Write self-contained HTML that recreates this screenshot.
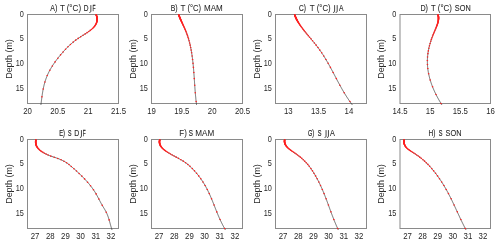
<!DOCTYPE html>
<html><head><meta charset="utf-8"><style>
html,body{margin:0;padding:0;background:#fff;width:500px;height:244px;overflow:hidden}
svg{display:block}
</style></head><body>
<svg width="500" height="244" viewBox="0 0 500 244">
<g font-family="Liberation Sans, sans-serif" font-size="8" fill="#262626" opacity="0.995">
<text x="50.29" y="11.10" font-size="8.7" textLength="6.94" lengthAdjust="spacingAndGlyphs" stroke="#262626" stroke-width="0.12">A)</text>
<text x="60.02" y="11.10" font-size="8.7" textLength="4.97" lengthAdjust="spacingAndGlyphs" stroke="#262626" stroke-width="0.04">T</text>
<text x="66.70" y="11.10" font-size="8.7" textLength="14.40" lengthAdjust="spacingAndGlyphs" stroke="#262626" stroke-width="0.04">(°C)</text>
<text x="83.66" y="11.10" font-size="8.7" textLength="4.76" lengthAdjust="spacingAndGlyphs" stroke="#262626" stroke-width="0.15">D</text>
<path d="M90.85,5.11 V11.30 Q90.85,12.40 89.35,12.50" fill="none" stroke="#262626" stroke-width="0.85"/>
<text x="92.40" y="11.10" font-size="8.7" textLength="3.00" lengthAdjust="spacingAndGlyphs" stroke="#262626" stroke-width="0.26">F</text>
<text transform="translate(27.50,113.60) scale(0.9,1)" font-size="8.7" text-anchor="middle">20</text>
<text transform="translate(57.83,113.60) scale(0.9,1)" font-size="8.7" text-anchor="middle">20.5</text>
<text transform="translate(88.17,113.60) scale(0.9,1)" font-size="8.7" text-anchor="middle">21</text>
<text transform="translate(118.50,113.60) scale(0.9,1)" font-size="8.7" text-anchor="middle">21.5</text>
<text transform="translate(23.90,16.70) scale(0.84,1)" font-size="8.7" text-anchor="end">0</text>
<text transform="translate(23.90,41.42) scale(0.84,1)" font-size="8.7" text-anchor="end">5</text>
<text transform="translate(23.90,66.14) scale(0.84,1)" font-size="8.7" text-anchor="end">10</text>
<text transform="translate(23.90,90.87) scale(0.84,1)" font-size="8.7" text-anchor="end">15</text>
<text transform="translate(11.50,59.00) rotate(-90) scale(0.95,1)" font-size="9.4" text-anchor="middle">Depth (m)</text>
<text x="170.73" y="11.10" font-size="8.7" textLength="6.89" lengthAdjust="spacingAndGlyphs" stroke="#262626" stroke-width="0.12">B)</text>
<text x="180.42" y="11.10" font-size="8.7" textLength="4.97" lengthAdjust="spacingAndGlyphs" stroke="#262626" stroke-width="0.04">T</text>
<text x="187.43" y="11.10" font-size="8.7" textLength="13.65" lengthAdjust="spacingAndGlyphs" stroke="#262626" stroke-width="0.07">(°C)</text>
<text x="204.04" y="11.10" font-size="8.7" textLength="18.72" lengthAdjust="spacingAndGlyphs" stroke="#262626" stroke-width="0.05">MAM</text>
<text transform="translate(151.50,113.60) scale(0.9,1)" font-size="8.7" text-anchor="middle">19</text>
<text transform="translate(181.83,113.60) scale(0.9,1)" font-size="8.7" text-anchor="middle">19.5</text>
<text transform="translate(212.17,113.60) scale(0.9,1)" font-size="8.7" text-anchor="middle">20</text>
<text transform="translate(242.50,113.60) scale(0.9,1)" font-size="8.7" text-anchor="middle">20.5</text>
<text transform="translate(147.90,16.70) scale(0.84,1)" font-size="8.7" text-anchor="end">0</text>
<text transform="translate(147.90,41.42) scale(0.84,1)" font-size="8.7" text-anchor="end">5</text>
<text transform="translate(147.90,66.14) scale(0.84,1)" font-size="8.7" text-anchor="end">10</text>
<text transform="translate(147.90,90.87) scale(0.84,1)" font-size="8.7" text-anchor="end">15</text>
<text transform="translate(135.50,59.00) rotate(-90) scale(0.95,1)" font-size="9.4" text-anchor="middle">Depth (m)</text>
<text x="298.97" y="11.10" font-size="8.7" textLength="6.94" lengthAdjust="spacingAndGlyphs" stroke="#262626" stroke-width="0.15">C)</text>
<text x="309.72" y="11.10" font-size="8.7" textLength="4.97" lengthAdjust="spacingAndGlyphs" stroke="#262626" stroke-width="0.04">T</text>
<text x="316.72" y="11.10" font-size="8.7" textLength="13.86" lengthAdjust="spacingAndGlyphs" stroke="#262626" stroke-width="0.07">(°C)</text>
<path d="M334.60,5.11 V11.30 Q334.60,12.40 333.10,12.50" fill="none" stroke="#262626" stroke-width="0.85"/>
<path d="M337.20,5.11 V11.30 Q337.20,12.40 335.70,12.50" fill="none" stroke="#262626" stroke-width="0.85"/>
<text x="338.99" y="11.10" font-size="8.7" textLength="4.53" lengthAdjust="spacingAndGlyphs" stroke="#262626" stroke-width="0.13">A</text>
<text transform="translate(288.24,113.60) scale(0.9,1)" font-size="8.7" text-anchor="middle">13</text>
<text transform="translate(318.57,113.60) scale(0.9,1)" font-size="8.7" text-anchor="middle">13.5</text>
<text transform="translate(348.91,113.60) scale(0.9,1)" font-size="8.7" text-anchor="middle">14</text>
<text transform="translate(271.90,16.70) scale(0.84,1)" font-size="8.7" text-anchor="end">0</text>
<text transform="translate(271.90,41.42) scale(0.84,1)" font-size="8.7" text-anchor="end">5</text>
<text transform="translate(271.90,66.14) scale(0.84,1)" font-size="8.7" text-anchor="end">10</text>
<text transform="translate(271.90,90.87) scale(0.84,1)" font-size="8.7" text-anchor="end">15</text>
<text transform="translate(259.50,59.00) rotate(-90) scale(0.95,1)" font-size="9.4" text-anchor="middle">Depth (m)</text>
<text x="420.41" y="11.10" font-size="8.7" textLength="7.53" lengthAdjust="spacingAndGlyphs" stroke="#262626" stroke-width="0.11">D)</text>
<text x="431.03" y="11.10" font-size="8.7" textLength="4.65" lengthAdjust="spacingAndGlyphs" stroke="#262626" stroke-width="0.08">T</text>
<text x="437.81" y="11.10" font-size="8.7" textLength="14.18" lengthAdjust="spacingAndGlyphs" stroke="#262626" stroke-width="0.05">(°C)</text>
<text x="454.87" y="11.10" font-size="8.7" textLength="15.83" lengthAdjust="spacingAndGlyphs" stroke="#262626" stroke-width="0.10">SON</text>
<text transform="translate(400.00,113.60) scale(0.9,1)" font-size="8.7" text-anchor="middle">14.5</text>
<text transform="translate(430.17,113.60) scale(0.9,1)" font-size="8.7" text-anchor="middle">15</text>
<text transform="translate(460.33,113.60) scale(0.9,1)" font-size="8.7" text-anchor="middle">15.5</text>
<text transform="translate(490.50,113.60) scale(0.9,1)" font-size="8.7" text-anchor="middle">16</text>
<text transform="translate(396.40,16.70) scale(0.84,1)" font-size="8.7" text-anchor="end">0</text>
<text transform="translate(396.40,41.42) scale(0.84,1)" font-size="8.7" text-anchor="end">5</text>
<text transform="translate(396.40,66.14) scale(0.84,1)" font-size="8.7" text-anchor="end">10</text>
<text transform="translate(396.40,90.87) scale(0.84,1)" font-size="8.7" text-anchor="end">15</text>
<text transform="translate(384.00,59.00) rotate(-90) scale(0.95,1)" font-size="9.4" text-anchor="middle">Depth (m)</text>
<text x="59.13" y="136.10" font-size="8.7" textLength="5.72" lengthAdjust="spacingAndGlyphs" stroke="#262626" stroke-width="0.21">E)</text>
<text x="68.06" y="136.10" font-size="8.7" textLength="3.48" lengthAdjust="spacingAndGlyphs" stroke="#262626" stroke-width="0.24">S</text>
<text x="74.33" y="136.10" font-size="8.7" textLength="5.00" lengthAdjust="spacingAndGlyphs" stroke="#262626" stroke-width="0.12">D</text>
<path d="M81.45,130.11 V136.30 Q81.45,137.40 79.95,137.50" fill="none" stroke="#262626" stroke-width="0.85"/>
<text x="82.81" y="136.10" font-size="8.7" textLength="2.87" lengthAdjust="spacingAndGlyphs" stroke="#262626" stroke-width="0.28">F</text>
<text transform="translate(35.08,238.60) scale(0.9,1)" font-size="8.7" text-anchor="middle">27</text>
<text transform="translate(50.25,238.60) scale(0.9,1)" font-size="8.7" text-anchor="middle">28</text>
<text transform="translate(65.42,238.60) scale(0.9,1)" font-size="8.7" text-anchor="middle">29</text>
<text transform="translate(80.58,238.60) scale(0.9,1)" font-size="8.7" text-anchor="middle">30</text>
<text transform="translate(95.75,238.60) scale(0.9,1)" font-size="8.7" text-anchor="middle">31</text>
<text transform="translate(110.92,238.60) scale(0.9,1)" font-size="8.7" text-anchor="middle">32</text>
<text transform="translate(23.90,141.70) scale(0.84,1)" font-size="8.7" text-anchor="end">0</text>
<text transform="translate(23.90,166.42) scale(0.84,1)" font-size="8.7" text-anchor="end">5</text>
<text transform="translate(23.90,191.14) scale(0.84,1)" font-size="8.7" text-anchor="end">10</text>
<text transform="translate(23.90,215.87) scale(0.84,1)" font-size="8.7" text-anchor="end">15</text>
<text transform="translate(11.50,184.00) rotate(-90) scale(0.95,1)" font-size="9.4" text-anchor="middle">Depth (m)</text>
<text x="179.35" y="136.10" font-size="8.7" textLength="7.43" lengthAdjust="spacingAndGlyphs" stroke="#262626" stroke-width="0.06">F)</text>
<text x="188.82" y="136.10" font-size="8.7" textLength="4.17" lengthAdjust="spacingAndGlyphs" stroke="#262626" stroke-width="0.17">S</text>
<text x="195.33" y="136.10" font-size="8.7" textLength="18.93" lengthAdjust="spacingAndGlyphs" stroke="#262626" stroke-width="0.04">MAM</text>
<text transform="translate(159.08,238.60) scale(0.9,1)" font-size="8.7" text-anchor="middle">27</text>
<text transform="translate(174.25,238.60) scale(0.9,1)" font-size="8.7" text-anchor="middle">28</text>
<text transform="translate(189.42,238.60) scale(0.9,1)" font-size="8.7" text-anchor="middle">29</text>
<text transform="translate(204.58,238.60) scale(0.9,1)" font-size="8.7" text-anchor="middle">30</text>
<text transform="translate(219.75,238.60) scale(0.9,1)" font-size="8.7" text-anchor="middle">31</text>
<text transform="translate(234.92,238.60) scale(0.9,1)" font-size="8.7" text-anchor="middle">32</text>
<text transform="translate(147.90,141.70) scale(0.84,1)" font-size="8.7" text-anchor="end">0</text>
<text transform="translate(147.90,166.42) scale(0.84,1)" font-size="8.7" text-anchor="end">5</text>
<text transform="translate(147.90,191.14) scale(0.84,1)" font-size="8.7" text-anchor="end">10</text>
<text transform="translate(147.90,215.87) scale(0.84,1)" font-size="8.7" text-anchor="end">15</text>
<text transform="translate(135.50,184.00) rotate(-90) scale(0.95,1)" font-size="9.4" text-anchor="middle">Depth (m)</text>
<text x="307.92" y="136.10" font-size="8.7" textLength="6.23" lengthAdjust="spacingAndGlyphs" stroke="#262626" stroke-width="0.21">G)</text>
<text x="317.75" y="136.10" font-size="8.7" textLength="3.71" lengthAdjust="spacingAndGlyphs" stroke="#262626" stroke-width="0.22">S</text>
<path d="M326.05,130.11 V136.30 Q326.05,137.40 324.55,137.50" fill="none" stroke="#262626" stroke-width="0.85"/>
<path d="M328.45,130.11 V136.30 Q328.45,137.40 326.95,137.50" fill="none" stroke="#262626" stroke-width="0.85"/>
<text x="329.89" y="136.10" font-size="8.7" textLength="4.83" lengthAdjust="spacingAndGlyphs" stroke="#262626" stroke-width="0.10">A</text>
<text transform="translate(283.08,238.60) scale(0.9,1)" font-size="8.7" text-anchor="middle">27</text>
<text transform="translate(298.25,238.60) scale(0.9,1)" font-size="8.7" text-anchor="middle">28</text>
<text transform="translate(313.42,238.60) scale(0.9,1)" font-size="8.7" text-anchor="middle">29</text>
<text transform="translate(328.58,238.60) scale(0.9,1)" font-size="8.7" text-anchor="middle">30</text>
<text transform="translate(343.75,238.60) scale(0.9,1)" font-size="8.7" text-anchor="middle">31</text>
<text transform="translate(358.92,238.60) scale(0.9,1)" font-size="8.7" text-anchor="middle">32</text>
<text transform="translate(271.90,141.70) scale(0.84,1)" font-size="8.7" text-anchor="end">0</text>
<text transform="translate(271.90,166.42) scale(0.84,1)" font-size="8.7" text-anchor="end">5</text>
<text transform="translate(271.90,191.14) scale(0.84,1)" font-size="8.7" text-anchor="end">10</text>
<text transform="translate(271.90,215.87) scale(0.84,1)" font-size="8.7" text-anchor="end">15</text>
<text transform="translate(259.50,184.00) rotate(-90) scale(0.95,1)" font-size="9.4" text-anchor="middle">Depth (m)</text>
<text x="428.57" y="136.10" font-size="8.7" textLength="6.83" lengthAdjust="spacingAndGlyphs" stroke="#262626" stroke-width="0.15">H)</text>
<text x="438.75" y="136.10" font-size="8.7" textLength="3.71" lengthAdjust="spacingAndGlyphs" stroke="#262626" stroke-width="0.22">S</text>
<text x="445.57" y="136.10" font-size="8.7" textLength="15.93" lengthAdjust="spacingAndGlyphs" stroke="#262626" stroke-width="0.09">SON</text>
<text transform="translate(407.54,238.60) scale(0.9,1)" font-size="8.7" text-anchor="middle">27</text>
<text transform="translate(422.62,238.60) scale(0.9,1)" font-size="8.7" text-anchor="middle">28</text>
<text transform="translate(437.71,238.60) scale(0.9,1)" font-size="8.7" text-anchor="middle">29</text>
<text transform="translate(452.79,238.60) scale(0.9,1)" font-size="8.7" text-anchor="middle">30</text>
<text transform="translate(467.88,238.60) scale(0.9,1)" font-size="8.7" text-anchor="middle">31</text>
<text transform="translate(482.96,238.60) scale(0.9,1)" font-size="8.7" text-anchor="middle">32</text>
<text transform="translate(396.40,141.70) scale(0.84,1)" font-size="8.7" text-anchor="end">0</text>
<text transform="translate(396.40,166.42) scale(0.84,1)" font-size="8.7" text-anchor="end">5</text>
<text transform="translate(396.40,191.14) scale(0.84,1)" font-size="8.7" text-anchor="end">10</text>
<text transform="translate(396.40,215.87) scale(0.84,1)" font-size="8.7" text-anchor="end">15</text>
<text transform="translate(384.00,184.00) rotate(-90) scale(0.95,1)" font-size="9.4" text-anchor="middle">Depth (m)</text>
</g>
<rect x="27.5" y="14.5" width="91.0" height="89.0" fill="none" stroke="#8a8a8a" stroke-width="1"/>
<rect x="151.5" y="14.5" width="91.0" height="89.0" fill="none" stroke="#8a8a8a" stroke-width="1"/>
<rect x="275.5" y="14.5" width="91.0" height="89.0" fill="none" stroke="#8a8a8a" stroke-width="1"/>
<rect x="400.0" y="14.5" width="90.5" height="89.0" fill="none" stroke="#8a8a8a" stroke-width="1"/>
<rect x="27.5" y="139.5" width="91.0" height="89.0" fill="none" stroke="#8a8a8a" stroke-width="1"/>
<rect x="151.5" y="139.5" width="91.0" height="89.0" fill="none" stroke="#8a8a8a" stroke-width="1"/>
<rect x="275.5" y="139.5" width="91.0" height="89.0" fill="none" stroke="#8a8a8a" stroke-width="1"/>
<rect x="400.0" y="139.5" width="90.5" height="89.0" fill="none" stroke="#8a8a8a" stroke-width="1"/>
<defs><clipPath id="c0"><rect x="26.5" y="14.5" width="93.0" height="90.6"/></clipPath><clipPath id="c1"><rect x="150.5" y="14.5" width="93.0" height="90.6"/></clipPath><clipPath id="c2"><rect x="274.5" y="14.5" width="93.0" height="90.6"/></clipPath><clipPath id="c3"><rect x="399.0" y="14.5" width="92.5" height="90.6"/></clipPath><clipPath id="c4"><rect x="26.5" y="139.5" width="93.0" height="90.6"/></clipPath><clipPath id="c5"><rect x="150.5" y="139.5" width="93.0" height="90.6"/></clipPath><clipPath id="c6"><rect x="274.5" y="139.5" width="93.0" height="90.6"/></clipPath><clipPath id="c7"><rect x="399.0" y="139.5" width="92.5" height="90.6"/></clipPath></defs>
<g clip-path="url(#c0)">
<path d="M95.87,14.00 L96.08,14.50 L96.27,15.00 L96.45,15.50 L96.61,16.00 L96.74,16.50 L96.86,17.00 L96.95,17.50 L97.03,18.00 L97.08,18.50 L97.11,19.00 L97.11,19.50 L97.09,20.00 L97.05,20.50 L96.98,21.00 L96.88,21.50 L96.76,22.00 L96.62,22.50 L96.44,23.00 L96.24,23.50 L96.00,24.00 L95.74,24.50 L95.45,25.00 L95.13,25.50 L94.78,26.00 L94.39,26.50 L93.98,27.00 L93.53,27.50 L93.05,28.00 L92.53,28.50 L91.98,29.00 L91.39,29.50 L90.78,30.00 L90.13,30.50 L89.46,31.00 L88.76,31.50 L88.05,32.00 L87.31,32.50 L86.56,33.00 L85.80,33.50 L85.02,34.00 L84.24,34.50 L83.46,35.00 L82.67,35.50 L81.88,36.00 L81.10,36.50 L80.32,37.00 L79.55,37.50 L78.79,38.00 L78.04,38.50 L77.31,39.00 L76.60,39.50 L75.91,40.00 L75.23,40.50 L74.58,41.00 L73.93,41.50 L73.31,42.00 L72.69,42.50 L72.10,43.00 L71.51,43.50 L70.94,44.00 L70.38,44.50 L69.83,45.00 L69.30,45.50 L68.77,46.00 L68.26,46.50 L67.75,47.00 L67.25,47.50 L66.76,48.00 L66.28,48.50 L65.80,49.00 L65.33,49.50 L64.87,50.00 L64.41,50.50 L63.95,51.00 L63.50,51.50 L63.05,52.00 L62.61,52.50 L62.17,53.00 L61.73,53.50 L61.30,54.00 L60.88,54.50 L60.45,55.00 L60.04,55.50 L59.62,56.00 L59.21,56.50 L58.81,57.00 L58.41,57.50 L58.01,58.00 L57.62,58.50 L57.24,59.00 L56.85,59.50 L56.48,60.00 L56.10,60.50 L55.73,61.00 L55.37,61.50 L55.01,62.00 L54.66,62.50 L54.31,63.00 L53.97,63.50 L53.63,64.00 L53.29,64.50 L52.96,65.00 L52.64,65.50 L52.32,66.00 L52.01,66.50 L51.70,67.00 L51.39,67.50 L51.09,68.00 L50.80,68.50 L50.51,69.00 L50.23,69.50 L49.95,70.00 L49.68,70.50 L49.41,71.00 L49.15,71.50 L48.89,72.00 L48.64,72.50 L48.40,73.00 L48.16,73.50 L47.92,74.00 L47.70,74.50 L47.47,75.00 L47.26,75.50 L47.04,76.00 L46.84,76.50 L46.64,77.00 L46.44,77.50 L46.25,78.00 L46.07,78.50 L45.89,79.00 L45.72,79.50 L45.55,80.00 L45.38,80.50 L45.22,81.00 L45.07,81.50 L44.92,82.00 L44.77,82.50 L44.63,83.00 L44.49,83.50 L44.36,84.00 L44.22,84.50 L44.10,85.00 L43.98,85.50 L43.86,86.00 L43.74,86.50 L43.63,87.00 L43.52,87.50 L43.41,88.00 L43.31,88.50 L43.21,89.00 L43.11,89.50 L43.02,90.00 L42.92,90.50 L42.83,91.00 L42.75,91.50 L42.66,92.00 L42.58,92.50 L42.50,93.00 L42.42,93.50 L42.34,94.00 L42.27,94.50 L42.19,95.00 L42.12,95.50 L42.05,96.00 L41.98,96.50 L41.91,97.00 L41.84,97.50 L41.78,98.00 L41.71,98.50 L41.65,99.00 L41.58,99.50 L41.52,100.00 L41.45,100.50 L41.39,101.00 L41.33,101.50 L41.27,102.00 L41.20,102.50 L41.14,103.00 L41.08,103.50 L41.01,104.00 L40.95,104.50 L40.89,105.00 L40.83,105.50 L40.76,106.00" fill="none" stroke="#303030" stroke-width="0.7"/>
<g fill="#ff2020"><circle cx="96.08" cy="14.50" r="0.8"/><circle cx="96.19" cy="14.78" r="0.8"/><circle cx="96.27" cy="14.99" r="0.8"/><circle cx="96.34" cy="15.19" r="0.8"/><circle cx="96.41" cy="15.40" r="0.8"/><circle cx="96.48" cy="15.61" r="0.8"/><circle cx="96.55" cy="15.82" r="0.8"/><circle cx="96.61" cy="16.03" r="0.8"/><circle cx="96.67" cy="16.24" r="0.8"/><circle cx="96.73" cy="16.44" r="0.8"/><circle cx="96.78" cy="16.65" r="0.8"/><circle cx="96.83" cy="16.86" r="0.8"/><circle cx="96.87" cy="17.07" r="0.8"/><circle cx="96.91" cy="17.28" r="0.8"/><circle cx="96.95" cy="17.48" r="0.8"/><circle cx="96.98" cy="17.69" r="0.8"/><circle cx="97.01" cy="17.90" r="0.8"/><circle cx="97.04" cy="18.11" r="0.8"/><circle cx="97.06" cy="18.32" r="0.8"/><circle cx="97.08" cy="18.53" r="0.8"/><circle cx="97.09" cy="18.73" r="0.8"/><circle cx="97.10" cy="18.94" r="0.8"/><circle cx="97.11" cy="19.16" r="0.8"/><circle cx="97.11" cy="19.40" r="0.8"/><circle cx="97.10" cy="19.64" r="0.8"/><circle cx="97.09" cy="19.91" r="0.8"/><circle cx="97.07" cy="20.19" r="0.8"/><circle cx="97.05" cy="20.49" r="0.8"/><circle cx="97.01" cy="20.80" r="0.8"/><circle cx="96.95" cy="21.14" r="0.8"/><circle cx="96.88" cy="21.51" r="0.8"/><circle cx="96.79" cy="21.89" r="0.8"/><circle cx="96.67" cy="22.31" r="0.8"/><circle cx="96.53" cy="22.75" r="0.8"/><circle cx="96.35" cy="23.22" r="0.8"/><circle cx="96.13" cy="23.73" r="0.8"/><circle cx="95.86" cy="24.27" r="0.8"/><circle cx="95.53" cy="24.86" r="0.8"/><circle cx="95.14" cy="25.49" r="0.8"/><circle cx="94.65" cy="26.16" r="0.8"/><circle cx="94.07" cy="26.89" r="0.8"/><circle cx="93.36" cy="27.67" r="0.8"/><circle cx="92.51" cy="28.52" r="0.8"/><circle cx="91.47" cy="29.43" r="0.8"/><circle cx="90.23" cy="30.42" r="0.8"/><circle cx="88.78" cy="31.49" r="0.8"/><circle cx="87.08" cy="32.65" r="0.8"/><circle cx="85.16" cy="33.91" r="0.8"/><circle cx="83.02" cy="35.28" r="0.8"/><circle cx="80.68" cy="36.77" r="0.8"/><circle cx="78.20" cy="38.39" r="0.8"/><circle cx="75.69" cy="40.16" r="0.8"/><circle cx="73.19" cy="42.09" r="0.8"/><circle cx="70.45" cy="44.44" r="0.8"/><circle cx="67.97" cy="46.78" r="0.8"/><circle cx="65.54" cy="49.28" r="0.8"/><circle cx="63.06" cy="51.99" r="0.8"/><circle cx="60.58" cy="54.85" r="0.8"/><circle cx="57.83" cy="58.23" r="0.8"/><circle cx="55.10" cy="61.88" r="0.8"/><circle cx="52.36" cy="65.94" r="0.8"/><circle cx="49.84" cy="70.21" r="0.8"/><circle cx="47.23" cy="75.57" r="0.8"/><circle cx="44.92" cy="81.98" r="0.8"/><circle cx="43.21" cy="89.01" r="0.8"/><circle cx="41.93" cy="96.87" r="0.8"/></g>
</g>
<g clip-path="url(#c1)">
<path d="M178.43,14.00 L178.60,14.50 L178.78,15.00 L178.96,15.50 L179.15,16.00 L179.34,16.50 L179.54,17.00 L179.74,17.50 L179.95,18.00 L180.16,18.50 L180.38,19.00 L180.59,19.50 L180.81,20.00 L181.04,20.50 L181.26,21.00 L181.49,21.50 L181.72,22.00 L181.94,22.50 L182.18,23.00 L182.41,23.50 L182.64,24.00 L182.87,24.50 L183.10,25.00 L183.33,25.50 L183.56,26.00 L183.79,26.50 L184.02,27.00 L184.24,27.50 L184.47,28.00 L184.69,28.50 L184.91,29.00 L185.13,29.50 L185.34,30.00 L185.55,30.50 L185.76,31.00 L185.96,31.50 L186.16,32.00 L186.36,32.50 L186.55,33.00 L186.74,33.50 L186.92,34.00 L187.10,34.50 L187.28,35.00 L187.45,35.50 L187.62,36.00 L187.79,36.50 L187.95,37.00 L188.11,37.50 L188.26,38.00 L188.42,38.50 L188.57,39.00 L188.71,39.50 L188.85,40.00 L188.99,40.50 L189.13,41.00 L189.26,41.50 L189.39,42.00 L189.52,42.50 L189.65,43.00 L189.77,43.50 L189.89,44.00 L190.00,44.50 L190.12,45.00 L190.23,45.50 L190.34,46.00 L190.45,46.50 L190.55,47.00 L190.66,47.50 L190.76,48.00 L190.86,48.50 L190.95,49.00 L191.05,49.50 L191.14,50.00 L191.23,50.50 L191.32,51.00 L191.41,51.50 L191.49,52.00 L191.58,52.50 L191.66,53.00 L191.74,53.50 L191.82,54.00 L191.90,54.50 L191.97,55.00 L192.05,55.50 L192.12,56.00 L192.19,56.50 L192.26,57.00 L192.33,57.50 L192.39,58.00 L192.46,58.50 L192.52,59.00 L192.58,59.50 L192.65,60.00 L192.71,60.50 L192.76,61.00 L192.82,61.50 L192.88,62.00 L192.93,62.50 L192.99,63.00 L193.04,63.50 L193.09,64.00 L193.14,64.50 L193.19,65.00 L193.24,65.50 L193.29,66.00 L193.33,66.50 L193.38,67.00 L193.43,67.50 L193.47,68.00 L193.51,68.50 L193.56,69.00 L193.60,69.50 L193.64,70.00 L193.68,70.50 L193.72,71.00 L193.76,71.50 L193.80,72.00 L193.84,72.50 L193.87,73.00 L193.91,73.50 L193.95,74.00 L193.99,74.50 L194.02,75.00 L194.06,75.50 L194.09,76.00 L194.13,76.50 L194.16,77.00 L194.20,77.50 L194.23,78.00 L194.26,78.50 L194.30,79.00 L194.33,79.50 L194.37,80.00 L194.40,80.50 L194.43,81.00 L194.47,81.50 L194.50,82.00 L194.53,82.50 L194.57,83.00 L194.60,83.50 L194.63,84.00 L194.67,84.50 L194.70,85.00 L194.74,85.50 L194.77,86.00 L194.81,86.50 L194.84,87.00 L194.88,87.50 L194.92,88.00 L194.95,88.50 L194.99,89.00 L195.03,89.50 L195.06,90.00 L195.10,90.50 L195.14,91.00 L195.18,91.50 L195.22,92.00 L195.26,92.50 L195.31,93.00 L195.35,93.50 L195.39,94.00 L195.43,94.50 L195.48,95.00 L195.52,95.50 L195.57,96.00 L195.62,96.50 L195.67,97.00 L195.72,97.50 L195.77,98.00 L195.82,98.50 L195.87,99.00 L195.92,99.50 L195.98,100.00 L196.03,100.50 L196.09,101.00 L196.15,101.50 L196.21,102.00 L196.27,102.50 L196.33,103.00 L196.39,103.50 L196.45,104.00 L196.51,104.50 L196.57,105.00 L196.64,105.50 L196.70,106.00" fill="none" stroke="#303030" stroke-width="0.7"/>
<g fill="#ff2020"><circle cx="178.60" cy="14.50" r="0.8"/><circle cx="178.69" cy="14.76" r="0.8"/><circle cx="178.76" cy="14.96" r="0.8"/><circle cx="178.84" cy="15.16" r="0.8"/><circle cx="178.91" cy="15.36" r="0.8"/><circle cx="178.98" cy="15.55" r="0.8"/><circle cx="179.06" cy="15.75" r="0.8"/><circle cx="179.13" cy="15.95" r="0.8"/><circle cx="179.21" cy="16.15" r="0.8"/><circle cx="179.28" cy="16.35" r="0.8"/><circle cx="179.36" cy="16.54" r="0.8"/><circle cx="179.44" cy="16.74" r="0.8"/><circle cx="179.52" cy="16.94" r="0.8"/><circle cx="179.60" cy="17.14" r="0.8"/><circle cx="179.68" cy="17.33" r="0.8"/><circle cx="179.76" cy="17.53" r="0.8"/><circle cx="179.84" cy="17.73" r="0.8"/><circle cx="179.92" cy="17.93" r="0.8"/><circle cx="180.00" cy="18.13" r="0.8"/><circle cx="180.09" cy="18.32" r="0.8"/><circle cx="180.17" cy="18.52" r="0.8"/><circle cx="180.26" cy="18.72" r="0.8"/><circle cx="180.35" cy="18.93" r="0.8"/><circle cx="180.44" cy="19.15" r="0.8"/><circle cx="180.54" cy="19.39" r="0.8"/><circle cx="180.65" cy="19.64" r="0.8"/><circle cx="180.77" cy="19.90" r="0.8"/><circle cx="180.90" cy="20.19" r="0.8"/><circle cx="181.03" cy="20.49" r="0.8"/><circle cx="181.18" cy="20.81" r="0.8"/><circle cx="181.33" cy="21.15" r="0.8"/><circle cx="181.50" cy="21.52" r="0.8"/><circle cx="181.68" cy="21.91" r="0.8"/><circle cx="181.87" cy="22.33" r="0.8"/><circle cx="182.08" cy="22.78" r="0.8"/><circle cx="182.30" cy="23.26" r="0.8"/><circle cx="182.54" cy="23.78" r="0.8"/><circle cx="182.79" cy="24.34" r="0.8"/><circle cx="183.07" cy="24.93" r="0.8"/><circle cx="183.36" cy="25.57" r="0.8"/><circle cx="183.68" cy="26.27" r="0.8"/><circle cx="184.02" cy="27.01" r="0.8"/><circle cx="184.38" cy="27.81" r="0.8"/><circle cx="184.77" cy="28.68" r="0.8"/><circle cx="185.18" cy="29.62" r="0.8"/><circle cx="185.61" cy="30.64" r="0.8"/><circle cx="186.06" cy="31.74" r="0.8"/><circle cx="186.53" cy="32.93" r="0.8"/><circle cx="187.01" cy="34.23" r="0.8"/><circle cx="187.50" cy="35.65" r="0.8"/><circle cx="188.01" cy="37.19" r="0.8"/><circle cx="188.53" cy="38.87" r="0.8"/><circle cx="189.05" cy="40.71" r="0.8"/><circle cx="189.63" cy="42.93" r="0.8"/><circle cx="190.15" cy="45.16" r="0.8"/><circle cx="190.66" cy="47.53" r="0.8"/><circle cx="191.16" cy="50.10" r="0.8"/><circle cx="191.63" cy="52.82" r="0.8"/><circle cx="192.12" cy="56.03" r="0.8"/><circle cx="192.58" cy="59.49" r="0.8"/><circle cx="193.02" cy="63.35" r="0.8"/><circle cx="193.42" cy="67.41" r="0.8"/><circle cx="193.84" cy="72.50" r="0.8"/><circle cx="194.27" cy="78.58" r="0.8"/><circle cx="194.72" cy="85.26" r="0.8"/><circle cx="195.28" cy="92.72" r="0.8"/><circle cx="196.15" cy="101.52" r="0.8"/></g>
</g>
<g clip-path="url(#c2)">
<path d="M294.47,14.00 L294.62,14.50 L294.78,15.00 L294.94,15.50 L295.12,16.00 L295.31,16.50 L295.51,17.00 L295.73,17.50 L295.95,18.00 L296.18,18.50 L296.42,19.00 L296.67,19.50 L296.93,20.00 L297.20,20.50 L297.48,21.00 L297.76,21.50 L298.06,22.00 L298.36,22.50 L298.67,23.00 L298.98,23.50 L299.31,24.00 L299.64,24.50 L299.98,25.00 L300.32,25.50 L300.67,26.00 L301.03,26.50 L301.39,27.00 L301.76,27.50 L302.13,28.00 L302.50,28.50 L302.89,29.00 L303.27,29.50 L303.66,30.00 L304.06,30.50 L304.45,31.00 L304.85,31.50 L305.26,32.00 L305.66,32.50 L306.07,33.00 L306.49,33.50 L306.90,34.00 L307.31,34.50 L307.73,35.00 L308.15,35.50 L308.57,36.00 L308.99,36.50 L309.41,37.00 L309.83,37.50 L310.25,38.00 L310.67,38.50 L311.09,39.00 L311.51,39.50 L311.93,40.00 L312.35,40.50 L312.77,41.00 L313.18,41.50 L313.59,42.00 L314.00,42.50 L314.41,43.00 L314.82,43.50 L315.22,44.00 L315.62,44.50 L316.01,45.00 L316.40,45.50 L316.79,46.00 L317.18,46.50 L317.56,47.00 L317.93,47.50 L318.30,48.00 L318.67,48.50 L319.03,49.00 L319.39,49.50 L319.75,50.00 L320.10,50.50 L320.45,51.00 L320.80,51.50 L321.14,52.00 L321.48,52.50 L321.82,53.00 L322.15,53.50 L322.48,54.00 L322.81,54.50 L323.13,55.00 L323.45,55.50 L323.77,56.00 L324.08,56.50 L324.40,57.00 L324.71,57.50 L325.01,58.00 L325.32,58.50 L325.62,59.00 L325.92,59.50 L326.22,60.00 L326.52,60.50 L326.81,61.00 L327.10,61.50 L327.39,62.00 L327.68,62.50 L327.97,63.00 L328.25,63.50 L328.53,64.00 L328.81,64.50 L329.09,65.00 L329.37,65.50 L329.65,66.00 L329.92,66.50 L330.19,67.00 L330.47,67.50 L330.74,68.00 L331.01,68.50 L331.28,69.00 L331.55,69.50 L331.81,70.00 L332.08,70.50 L332.34,71.00 L332.61,71.50 L332.87,72.00 L333.14,72.50 L333.40,73.00 L333.66,73.50 L333.93,74.00 L334.19,74.50 L334.45,75.00 L334.71,75.50 L334.98,76.00 L335.24,76.50 L335.50,77.00 L335.76,77.50 L336.02,78.00 L336.29,78.50 L336.55,79.00 L336.81,79.50 L337.08,80.00 L337.34,80.50 L337.61,81.00 L337.87,81.50 L338.14,82.00 L338.41,82.50 L338.68,83.00 L338.95,83.50 L339.22,84.00 L339.49,84.50 L339.76,85.00 L340.04,85.50 L340.31,86.00 L340.59,86.50 L340.87,87.00 L341.15,87.50 L341.43,88.00 L341.71,88.50 L342.00,89.00 L342.28,89.50 L342.57,90.00 L342.86,90.50 L343.15,91.00 L343.45,91.50 L343.74,92.00 L344.04,92.50 L344.34,93.00 L344.65,93.50 L344.95,94.00 L345.26,94.50 L345.57,95.00 L345.89,95.50 L346.20,96.00 L346.52,96.50 L346.84,97.00 L347.17,97.50 L347.50,98.00 L347.83,98.50 L348.16,99.00 L348.50,99.50 L348.84,100.00 L349.18,100.50 L349.53,101.00 L349.88,101.50 L350.24,102.00 L350.59,102.50 L350.96,103.00 L351.32,103.50 L351.68,104.00 L352.04,104.50 L352.39,105.00 L352.75,105.50 L353.11,106.00" fill="none" stroke="#303030" stroke-width="0.7"/>
<g fill="#ff2020"><circle cx="294.62" cy="14.50" r="0.8"/><circle cx="294.70" cy="14.76" r="0.8"/><circle cx="294.76" cy="14.96" r="0.8"/><circle cx="294.83" cy="15.16" r="0.8"/><circle cx="294.90" cy="15.36" r="0.8"/><circle cx="294.96" cy="15.55" r="0.8"/><circle cx="295.03" cy="15.75" r="0.8"/><circle cx="295.11" cy="15.95" r="0.8"/><circle cx="295.18" cy="16.15" r="0.8"/><circle cx="295.26" cy="16.35" r="0.8"/><circle cx="295.33" cy="16.54" r="0.8"/><circle cx="295.41" cy="16.74" r="0.8"/><circle cx="295.49" cy="16.94" r="0.8"/><circle cx="295.57" cy="17.14" r="0.8"/><circle cx="295.66" cy="17.33" r="0.8"/><circle cx="295.74" cy="17.53" r="0.8"/><circle cx="295.83" cy="17.73" r="0.8"/><circle cx="295.92" cy="17.93" r="0.8"/><circle cx="296.01" cy="18.13" r="0.8"/><circle cx="296.10" cy="18.32" r="0.8"/><circle cx="296.19" cy="18.52" r="0.8"/><circle cx="296.28" cy="18.72" r="0.8"/><circle cx="296.39" cy="18.93" r="0.8"/><circle cx="296.50" cy="19.15" r="0.8"/><circle cx="296.61" cy="19.39" r="0.8"/><circle cx="296.74" cy="19.64" r="0.8"/><circle cx="296.88" cy="19.90" r="0.8"/><circle cx="297.03" cy="20.19" r="0.8"/><circle cx="297.19" cy="20.49" r="0.8"/><circle cx="297.37" cy="20.81" r="0.8"/><circle cx="297.56" cy="21.15" r="0.8"/><circle cx="297.77" cy="21.52" r="0.8"/><circle cx="298.01" cy="21.91" r="0.8"/><circle cx="298.26" cy="22.33" r="0.8"/><circle cx="298.53" cy="22.78" r="0.8"/><circle cx="298.84" cy="23.26" r="0.8"/><circle cx="299.17" cy="23.78" r="0.8"/><circle cx="299.53" cy="24.34" r="0.8"/><circle cx="299.93" cy="24.93" r="0.8"/><circle cx="300.37" cy="25.57" r="0.8"/><circle cx="300.86" cy="26.27" r="0.8"/><circle cx="301.40" cy="27.01" r="0.8"/><circle cx="301.99" cy="27.81" r="0.8"/><circle cx="302.64" cy="28.68" r="0.8"/><circle cx="303.37" cy="29.62" r="0.8"/><circle cx="304.16" cy="30.64" r="0.8"/><circle cx="305.05" cy="31.74" r="0.8"/><circle cx="306.02" cy="32.93" r="0.8"/><circle cx="307.09" cy="34.23" r="0.8"/><circle cx="308.27" cy="35.65" r="0.8"/><circle cx="309.57" cy="37.19" r="0.8"/><circle cx="310.98" cy="38.87" r="0.8"/><circle cx="312.52" cy="40.71" r="0.8"/><circle cx="314.36" cy="42.93" r="0.8"/><circle cx="316.14" cy="45.16" r="0.8"/><circle cx="317.95" cy="47.53" r="0.8"/><circle cx="319.82" cy="50.10" r="0.8"/><circle cx="321.69" cy="52.82" r="0.8"/><circle cx="323.79" cy="56.03" r="0.8"/><circle cx="325.92" cy="59.49" r="0.8"/><circle cx="328.16" cy="63.35" r="0.8"/><circle cx="330.42" cy="67.41" r="0.8"/><circle cx="333.14" cy="72.50" r="0.8"/><circle cx="336.33" cy="78.58" r="0.8"/><circle cx="339.90" cy="85.26" r="0.8"/><circle cx="344.18" cy="92.72" r="0.8"/><circle cx="349.90" cy="101.52" r="0.8"/></g>
</g>
<g clip-path="url(#c3)">
<path d="M437.87,14.00 L438.03,14.50 L438.16,15.00 L438.26,15.50 L438.35,16.00 L438.42,16.50 L438.47,17.00 L438.50,17.50 L438.51,18.00 L438.50,18.50 L438.48,19.00 L438.44,19.50 L438.38,20.00 L438.31,20.50 L438.23,21.00 L438.13,21.50 L438.02,22.00 L437.90,22.50 L437.77,23.00 L437.62,23.50 L437.47,24.00 L437.31,24.50 L437.14,25.00 L436.96,25.50 L436.77,26.00 L436.58,26.50 L436.39,27.00 L436.18,27.50 L435.98,28.00 L435.77,28.50 L435.55,29.00 L435.34,29.50 L435.12,30.00 L434.91,30.50 L434.69,31.00 L434.47,31.50 L434.26,32.00 L434.04,32.50 L433.83,33.00 L433.62,33.50 L433.42,34.00 L433.22,34.50 L433.02,35.00 L432.82,35.50 L432.62,36.00 L432.43,36.50 L432.24,37.00 L432.06,37.50 L431.88,38.00 L431.70,38.50 L431.52,39.00 L431.35,39.50 L431.18,40.00 L431.01,40.50 L430.85,41.00 L430.69,41.50 L430.53,42.00 L430.38,42.50 L430.23,43.00 L430.08,43.50 L429.94,44.00 L429.80,44.50 L429.66,45.00 L429.53,45.50 L429.40,46.00 L429.28,46.50 L429.16,47.00 L429.04,47.50 L428.92,48.00 L428.81,48.50 L428.71,49.00 L428.60,49.50 L428.50,50.00 L428.41,50.50 L428.32,51.00 L428.23,51.50 L428.15,52.00 L428.07,52.50 L427.99,53.00 L427.92,53.50 L427.86,54.00 L427.79,54.50 L427.73,55.00 L427.68,55.50 L427.63,56.00 L427.59,56.50 L427.54,57.00 L427.51,57.50 L427.47,58.00 L427.45,58.50 L427.42,59.00 L427.40,59.50 L427.39,60.00 L427.38,60.50 L427.37,61.00 L427.37,61.50 L427.37,62.00 L427.38,62.50 L427.39,63.00 L427.41,63.50 L427.43,64.00 L427.45,64.50 L427.48,65.00 L427.51,65.50 L427.55,66.00 L427.59,66.50 L427.63,67.00 L427.68,67.50 L427.73,68.00 L427.79,68.50 L427.85,69.00 L427.91,69.50 L427.98,70.00 L428.06,70.50 L428.13,71.00 L428.21,71.50 L428.30,72.00 L428.39,72.50 L428.48,73.00 L428.58,73.50 L428.68,74.00 L428.78,74.50 L428.89,75.00 L429.00,75.50 L429.12,76.00 L429.24,76.50 L429.37,77.00 L429.49,77.50 L429.63,78.00 L429.76,78.50 L429.90,79.00 L430.04,79.50 L430.19,80.00 L430.34,80.50 L430.49,81.00 L430.65,81.50 L430.81,82.00 L430.98,82.50 L431.15,83.00 L431.32,83.50 L431.50,84.00 L431.68,84.50 L431.86,85.00 L432.05,85.50 L432.24,86.00 L432.43,86.50 L432.63,87.00 L432.83,87.50 L433.04,88.00 L433.24,88.50 L433.46,89.00 L433.67,89.50 L433.89,90.00 L434.11,90.50 L434.34,91.00 L434.57,91.50 L434.80,92.00 L435.03,92.50 L435.27,93.00 L435.51,93.50 L435.76,94.00 L436.01,94.50 L436.26,95.00 L436.52,95.50 L436.78,96.00 L437.04,96.50 L437.30,97.00 L437.57,97.50 L437.84,98.00 L438.12,98.50 L438.40,99.00 L438.68,99.50 L438.96,100.00 L439.25,100.50 L439.54,101.00 L439.83,101.50 L440.13,102.00 L440.43,102.50 L440.73,103.00 L441.03,103.50 L441.34,104.00 L441.64,104.50 L441.94,105.00 L442.24,105.50 L442.54,106.00" fill="none" stroke="#303030" stroke-width="0.7"/>
<g fill="#ff2020"><circle cx="438.03" cy="14.50" r="0.8"/><circle cx="438.10" cy="14.77" r="0.8"/><circle cx="438.15" cy="14.97" r="0.8"/><circle cx="438.19" cy="15.17" r="0.8"/><circle cx="438.24" cy="15.38" r="0.8"/><circle cx="438.28" cy="15.58" r="0.8"/><circle cx="438.31" cy="15.78" r="0.8"/><circle cx="438.35" cy="15.98" r="0.8"/><circle cx="438.38" cy="16.18" r="0.8"/><circle cx="438.40" cy="16.39" r="0.8"/><circle cx="438.43" cy="16.59" r="0.8"/><circle cx="438.45" cy="16.79" r="0.8"/><circle cx="438.47" cy="16.99" r="0.8"/><circle cx="438.48" cy="17.19" r="0.8"/><circle cx="438.49" cy="17.40" r="0.8"/><circle cx="438.50" cy="17.60" r="0.8"/><circle cx="438.50" cy="17.80" r="0.8"/><circle cx="438.51" cy="18.00" r="0.8"/><circle cx="438.50" cy="18.21" r="0.8"/><circle cx="438.50" cy="18.41" r="0.8"/><circle cx="438.49" cy="18.61" r="0.8"/><circle cx="438.48" cy="18.81" r="0.8"/><circle cx="438.47" cy="19.03" r="0.8"/><circle cx="438.46" cy="19.25" r="0.8"/><circle cx="438.44" cy="19.49" r="0.8"/><circle cx="438.41" cy="19.75" r="0.8"/><circle cx="438.38" cy="20.02" r="0.8"/><circle cx="438.34" cy="20.31" r="0.8"/><circle cx="438.29" cy="20.62" r="0.8"/><circle cx="438.24" cy="20.95" r="0.8"/><circle cx="438.17" cy="21.30" r="0.8"/><circle cx="438.09" cy="21.68" r="0.8"/><circle cx="438.00" cy="22.08" r="0.8"/><circle cx="437.90" cy="22.51" r="0.8"/><circle cx="437.78" cy="22.97" r="0.8"/><circle cx="437.64" cy="23.46" r="0.8"/><circle cx="437.47" cy="23.99" r="0.8"/><circle cx="437.29" cy="24.55" r="0.8"/><circle cx="437.08" cy="25.16" r="0.8"/><circle cx="436.84" cy="25.82" r="0.8"/><circle cx="436.57" cy="26.52" r="0.8"/><circle cx="436.27" cy="27.29" r="0.8"/><circle cx="435.93" cy="28.11" r="0.8"/><circle cx="435.56" cy="28.99" r="0.8"/><circle cx="435.14" cy="29.95" r="0.8"/><circle cx="434.69" cy="30.99" r="0.8"/><circle cx="434.21" cy="32.12" r="0.8"/><circle cx="433.69" cy="33.34" r="0.8"/><circle cx="433.15" cy="34.67" r="0.8"/><circle cx="432.58" cy="36.11" r="0.8"/><circle cx="431.99" cy="37.69" r="0.8"/><circle cx="431.38" cy="39.40" r="0.8"/><circle cx="430.76" cy="41.28" r="0.8"/><circle cx="430.07" cy="43.56" r="0.8"/><circle cx="429.45" cy="45.83" r="0.8"/><circle cx="428.87" cy="48.26" r="0.8"/><circle cx="428.34" cy="50.88" r="0.8"/><circle cx="427.90" cy="53.66" r="0.8"/><circle cx="427.55" cy="56.95" r="0.8"/><circle cx="427.38" cy="60.48" r="0.8"/><circle cx="427.45" cy="64.43" r="0.8"/><circle cx="427.80" cy="68.57" r="0.8"/><circle cx="428.63" cy="73.77" r="0.8"/><circle cx="430.19" cy="79.99" r="0.8"/><circle cx="432.56" cy="86.81" r="0.8"/><circle cx="435.98" cy="94.44" r="0.8"/><circle cx="441.00" cy="103.44" r="0.8"/></g>
</g>
<g clip-path="url(#c4)">
<path d="M35.94,139.00 L35.85,139.50 L35.78,140.00 L35.72,140.50 L35.68,141.00 L35.65,141.50 L35.65,142.00 L35.66,142.50 L35.70,143.00 L35.77,143.50 L35.85,144.00 L35.97,144.50 L36.12,145.00 L36.30,145.50 L36.51,146.00 L36.76,146.50 L37.05,147.00 L37.37,147.50 L37.74,148.00 L38.15,148.50 L38.60,149.00 L39.10,149.50 L39.65,150.00 L40.25,150.50 L40.90,151.00 L41.60,151.50 L42.36,152.00 L43.17,152.50 L44.04,153.00 L44.96,153.50 L45.93,154.00 L46.93,154.50 L48.01,155.00 L49.19,155.50 L50.53,156.00 L51.99,156.50 L53.52,157.00 L55.06,157.50 L56.53,158.00 L57.91,158.50 L59.20,159.00 L60.40,159.50 L61.52,160.00 L62.57,160.50 L63.54,161.00 L64.46,161.50 L65.32,162.00 L66.12,162.50 L66.88,163.00 L67.59,163.50 L68.28,164.00 L68.93,164.50 L69.55,165.00 L70.16,165.50 L70.76,166.00 L71.35,166.50 L71.93,167.00 L72.52,167.50 L73.09,168.00 L73.67,168.50 L74.23,169.00 L74.80,169.50 L75.36,170.00 L75.92,170.50 L76.47,171.00 L77.02,171.50 L77.56,172.00 L78.10,172.50 L78.63,173.00 L79.16,173.50 L79.69,174.00 L80.20,174.50 L80.72,175.00 L81.23,175.50 L81.74,176.00 L82.24,176.50 L82.73,177.00 L83.22,177.50 L83.71,178.00 L84.19,178.50 L84.66,179.00 L85.13,179.50 L85.59,180.00 L86.05,180.50 L86.51,181.00 L86.95,181.50 L87.39,182.00 L87.83,182.50 L88.26,183.00 L88.69,183.50 L89.10,184.00 L89.52,184.50 L89.92,185.00 L90.32,185.50 L90.72,186.00 L91.11,186.50 L91.49,187.00 L91.86,187.50 L92.23,188.00 L92.59,188.50 L92.95,189.00 L93.30,189.50 L93.64,190.00 L93.98,190.50 L94.30,191.00 L94.63,191.50 L94.94,192.00 L95.25,192.50 L95.55,193.00 L95.85,193.50 L96.14,194.00 L96.42,194.50 L96.70,195.00 L96.98,195.50 L97.25,196.00 L97.52,196.50 L97.79,197.00 L98.05,197.50 L98.31,198.00 L98.57,198.50 L98.83,199.00 L99.09,199.50 L99.35,200.00 L99.61,200.50 L99.87,201.00 L100.14,201.50 L100.40,202.00 L100.67,202.50 L100.94,203.00 L101.21,203.50 L101.49,204.00 L101.77,204.50 L102.05,205.00 L102.34,205.50 L102.63,206.00 L102.93,206.50 L103.24,207.00 L103.54,207.50 L103.84,208.00 L104.15,208.50 L104.45,209.00 L104.74,209.50 L105.04,210.00 L105.32,210.50 L105.60,211.00 L105.87,211.50 L106.12,212.00 L106.37,212.50 L106.61,213.00 L106.84,213.50 L107.06,214.00 L107.27,214.50 L107.47,215.00 L107.67,215.50 L107.85,216.00 L108.04,216.50 L108.21,217.00 L108.38,217.50 L108.55,218.00 L108.70,218.50 L108.86,219.00 L109.01,219.50 L109.16,220.00 L109.30,220.50 L109.44,221.00 L109.58,221.50 L109.72,222.00 L109.86,222.50 L109.99,223.00 L110.13,223.50 L110.26,224.00 L110.40,224.50 L110.54,225.00 L110.68,225.50 L110.82,226.00 L110.96,226.50 L111.10,227.00 L111.25,227.50 L111.40,228.00 L111.55,228.50 L111.70,229.00 L111.85,229.50 L112.00,230.00 L112.15,230.50 L112.30,231.00" fill="none" stroke="#303030" stroke-width="0.7"/>
<g fill="#ff2020"><circle cx="35.85" cy="139.50" r="0.8"/><circle cx="35.81" cy="139.77" r="0.8"/><circle cx="35.78" cy="139.97" r="0.8"/><circle cx="35.76" cy="140.18" r="0.8"/><circle cx="35.74" cy="140.38" r="0.8"/><circle cx="35.72" cy="140.58" r="0.8"/><circle cx="35.70" cy="140.79" r="0.8"/><circle cx="35.68" cy="140.99" r="0.8"/><circle cx="35.67" cy="141.19" r="0.8"/><circle cx="35.66" cy="141.40" r="0.8"/><circle cx="35.65" cy="141.60" r="0.8"/><circle cx="35.65" cy="141.80" r="0.8"/><circle cx="35.65" cy="142.01" r="0.8"/><circle cx="35.66" cy="142.21" r="0.8"/><circle cx="35.66" cy="142.41" r="0.8"/><circle cx="35.67" cy="142.62" r="0.8"/><circle cx="35.69" cy="142.82" r="0.8"/><circle cx="35.71" cy="143.02" r="0.8"/><circle cx="35.73" cy="143.23" r="0.8"/><circle cx="35.76" cy="143.43" r="0.8"/><circle cx="35.79" cy="143.63" r="0.8"/><circle cx="35.83" cy="143.84" r="0.8"/><circle cx="35.87" cy="144.05" r="0.8"/><circle cx="35.92" cy="144.28" r="0.8"/><circle cx="35.98" cy="144.52" r="0.8"/><circle cx="36.05" cy="144.78" r="0.8"/><circle cx="36.14" cy="145.05" r="0.8"/><circle cx="36.24" cy="145.34" r="0.8"/><circle cx="36.37" cy="145.66" r="0.8"/><circle cx="36.51" cy="145.99" r="0.8"/><circle cx="36.68" cy="146.34" r="0.8"/><circle cx="36.89" cy="146.72" r="0.8"/><circle cx="37.13" cy="147.12" r="0.8"/><circle cx="37.41" cy="147.55" r="0.8"/><circle cx="37.75" cy="148.02" r="0.8"/><circle cx="38.16" cy="148.51" r="0.8"/><circle cx="38.64" cy="149.04" r="0.8"/><circle cx="39.22" cy="149.61" r="0.8"/><circle cx="39.92" cy="150.23" r="0.8"/><circle cx="40.75" cy="150.88" r="0.8"/><circle cx="41.74" cy="151.59" r="0.8"/><circle cx="42.94" cy="152.36" r="0.8"/><circle cx="44.39" cy="153.19" r="0.8"/><circle cx="46.09" cy="154.08" r="0.8"/><circle cx="48.11" cy="155.04" r="0.8"/><circle cx="50.78" cy="156.09" r="0.8"/><circle cx="54.20" cy="157.22" r="0.8"/><circle cx="57.77" cy="158.45" r="0.8"/><circle cx="61.04" cy="159.79" r="0.8"/><circle cx="63.98" cy="161.24" r="0.8"/><circle cx="66.61" cy="162.82" r="0.8"/><circle cx="68.99" cy="164.55" r="0.8"/><circle cx="71.28" cy="166.44" r="0.8"/><circle cx="73.92" cy="168.73" r="0.8"/><circle cx="76.48" cy="171.01" r="0.8"/><circle cx="79.11" cy="173.45" r="0.8"/><circle cx="81.83" cy="176.10" r="0.8"/><circle cx="84.56" cy="178.89" r="0.8"/><circle cx="87.57" cy="182.20" r="0.8"/><circle cx="90.52" cy="185.75" r="0.8"/><circle cx="93.45" cy="189.72" r="0.8"/><circle cx="96.07" cy="193.89" r="0.8"/><circle cx="98.90" cy="199.12" r="0.8"/><circle cx="102.27" cy="205.37" r="0.8"/><circle cx="106.24" cy="212.24" r="0.8"/><circle cx="109.13" cy="219.91" r="0.8"/></g>
</g>
<g clip-path="url(#c5)">
<path d="M160.00,139.00 L159.83,139.50 L159.69,140.00 L159.58,140.50 L159.51,141.00 L159.47,141.50 L159.46,142.00 L159.48,142.50 L159.54,143.00 L159.63,143.50 L159.76,144.00 L159.93,144.50 L160.13,145.00 L160.38,145.50 L160.65,146.00 L160.97,146.50 L161.33,147.00 L161.73,147.50 L162.16,148.00 L162.64,148.50 L163.16,149.00 L163.73,149.50 L164.33,150.00 L164.98,150.50 L165.67,151.00 L166.40,151.50 L167.15,152.00 L167.94,152.50 L168.76,153.00 L169.60,153.50 L170.47,154.00 L171.35,154.50 L172.25,155.00 L173.16,155.50 L174.08,156.00 L175.01,156.50 L175.94,157.00 L176.87,157.50 L177.80,158.00 L178.71,158.50 L179.62,159.00 L180.50,159.50 L181.37,160.00 L182.21,160.50 L183.03,161.00 L183.81,161.50 L184.57,162.00 L185.29,162.50 L185.98,163.00 L186.65,163.50 L187.30,164.00 L187.91,164.50 L188.51,165.00 L189.09,165.50 L189.65,166.00 L190.19,166.50 L190.72,167.00 L191.24,167.50 L191.74,168.00 L192.23,168.50 L192.72,169.00 L193.19,169.50 L193.66,170.00 L194.13,170.50 L194.58,171.00 L195.03,171.50 L195.47,172.00 L195.91,172.50 L196.33,173.00 L196.75,173.50 L197.17,174.00 L197.58,174.50 L197.98,175.00 L198.37,175.50 L198.76,176.00 L199.14,176.50 L199.52,177.00 L199.89,177.50 L200.25,178.00 L200.61,178.50 L200.97,179.00 L201.31,179.50 L201.66,180.00 L201.99,180.50 L202.32,181.00 L202.65,181.50 L202.97,182.00 L203.29,182.50 L203.60,183.00 L203.91,183.50 L204.21,184.00 L204.51,184.50 L204.80,185.00 L205.09,185.50 L205.38,186.00 L205.66,186.50 L205.93,187.00 L206.21,187.50 L206.47,188.00 L206.74,188.50 L207.00,189.00 L207.26,189.50 L207.51,190.00 L207.77,190.50 L208.01,191.00 L208.26,191.50 L208.50,192.00 L208.74,192.50 L208.97,193.00 L209.21,193.50 L209.44,194.00 L209.67,194.50 L209.89,195.00 L210.12,195.50 L210.34,196.00 L210.56,196.50 L210.77,197.00 L210.99,197.50 L211.20,198.00 L211.41,198.50 L211.62,199.00 L211.83,199.50 L212.04,200.00 L212.24,200.50 L212.44,201.00 L212.65,201.50 L212.85,202.00 L213.05,202.50 L213.25,203.00 L213.45,203.50 L213.65,204.00 L213.85,204.50 L214.04,205.00 L214.24,205.50 L214.44,206.00 L214.63,206.50 L214.83,207.00 L215.03,207.50 L215.22,208.00 L215.42,208.50 L215.62,209.00 L215.82,209.50 L216.01,210.00 L216.21,210.50 L216.41,211.00 L216.61,211.50 L216.82,212.00 L217.02,212.50 L217.22,213.00 L217.43,213.50 L217.63,214.00 L217.84,214.50 L218.05,215.00 L218.26,215.50 L218.47,216.00 L218.69,216.50 L218.90,217.00 L219.12,217.50 L219.34,218.00 L219.57,218.50 L219.79,219.00 L220.02,219.50 L220.25,220.00 L220.48,220.50 L220.72,221.00 L220.96,221.50 L221.20,222.00 L221.44,222.50 L221.69,223.00 L221.94,223.50 L222.19,224.00 L222.45,224.50 L222.71,225.00 L222.97,225.50 L223.24,226.00 L223.51,226.50 L223.79,227.00 L224.07,227.50 L224.35,228.00 L224.64,228.50 L224.92,229.00 L225.20,229.50 L225.48,230.00 L225.76,230.50 L226.05,231.00" fill="none" stroke="#303030" stroke-width="0.7"/>
<g fill="#ff2020"><circle cx="159.83" cy="139.50" r="0.8"/><circle cx="159.75" cy="139.77" r="0.8"/><circle cx="159.70" cy="139.97" r="0.8"/><circle cx="159.65" cy="140.17" r="0.8"/><circle cx="159.61" cy="140.38" r="0.8"/><circle cx="159.57" cy="140.58" r="0.8"/><circle cx="159.54" cy="140.78" r="0.8"/><circle cx="159.51" cy="140.98" r="0.8"/><circle cx="159.49" cy="141.19" r="0.8"/><circle cx="159.47" cy="141.39" r="0.8"/><circle cx="159.46" cy="141.59" r="0.8"/><circle cx="159.46" cy="141.79" r="0.8"/><circle cx="159.46" cy="142.00" r="0.8"/><circle cx="159.47" cy="142.20" r="0.8"/><circle cx="159.48" cy="142.40" r="0.8"/><circle cx="159.49" cy="142.60" r="0.8"/><circle cx="159.52" cy="142.80" r="0.8"/><circle cx="159.54" cy="143.01" r="0.8"/><circle cx="159.58" cy="143.21" r="0.8"/><circle cx="159.62" cy="143.41" r="0.8"/><circle cx="159.66" cy="143.61" r="0.8"/><circle cx="159.72" cy="143.82" r="0.8"/><circle cx="159.77" cy="144.03" r="0.8"/><circle cx="159.85" cy="144.26" r="0.8"/><circle cx="159.93" cy="144.50" r="0.8"/><circle cx="160.03" cy="144.75" r="0.8"/><circle cx="160.15" cy="145.03" r="0.8"/><circle cx="160.29" cy="145.32" r="0.8"/><circle cx="160.44" cy="145.63" r="0.8"/><circle cx="160.63" cy="145.95" r="0.8"/><circle cx="160.85" cy="146.31" r="0.8"/><circle cx="161.10" cy="146.68" r="0.8"/><circle cx="161.40" cy="147.08" r="0.8"/><circle cx="161.74" cy="147.51" r="0.8"/><circle cx="162.14" cy="147.97" r="0.8"/><circle cx="162.61" cy="148.47" r="0.8"/><circle cx="163.16" cy="149.00" r="0.8"/><circle cx="163.80" cy="149.56" r="0.8"/><circle cx="164.56" cy="150.17" r="0.8"/><circle cx="165.44" cy="150.83" r="0.8"/><circle cx="166.45" cy="151.54" r="0.8"/><circle cx="167.62" cy="152.30" r="0.8"/><circle cx="168.96" cy="153.12" r="0.8"/><circle cx="170.48" cy="154.01" r="0.8"/><circle cx="172.19" cy="154.97" r="0.8"/><circle cx="174.10" cy="156.01" r="0.8"/><circle cx="176.19" cy="157.13" r="0.8"/><circle cx="178.45" cy="158.36" r="0.8"/><circle cx="180.83" cy="159.69" r="0.8"/><circle cx="183.24" cy="161.13" r="0.8"/><circle cx="185.58" cy="162.71" r="0.8"/><circle cx="187.83" cy="164.43" r="0.8"/><circle cx="189.98" cy="166.31" r="0.8"/><circle cx="192.31" cy="168.58" r="0.8"/><circle cx="194.45" cy="170.86" r="0.8"/><circle cx="196.58" cy="173.29" r="0.8"/><circle cx="198.70" cy="175.92" r="0.8"/><circle cx="200.75" cy="178.70" r="0.8"/><circle cx="202.97" cy="181.99" r="0.8"/><circle cx="205.11" cy="185.53" r="0.8"/><circle cx="207.25" cy="189.47" r="0.8"/><circle cx="209.26" cy="193.62" r="0.8"/><circle cx="211.55" cy="198.83" r="0.8"/><circle cx="214.06" cy="205.05" r="0.8"/><circle cx="216.77" cy="211.88" r="0.8"/><circle cx="220.03" cy="219.52" r="0.8"/><circle cx="224.65" cy="228.52" r="0.8"/></g>
</g>
<g clip-path="url(#c6)">
<path d="M284.84,139.00 L284.71,139.50 L284.61,140.00 L284.54,140.50 L284.51,141.00 L284.51,141.50 L284.55,142.00 L284.63,142.50 L284.74,143.00 L284.88,143.50 L285.07,144.00 L285.29,144.50 L285.56,145.00 L285.86,145.50 L286.20,146.00 L286.59,146.50 L287.01,147.00 L287.48,147.50 L287.99,148.00 L288.54,148.50 L289.13,149.00 L289.76,149.50 L290.42,150.00 L291.10,150.50 L291.81,151.00 L292.53,151.50 L293.26,152.00 L294.00,152.50 L294.74,153.00 L295.47,153.50 L296.19,154.00 L296.89,154.50 L297.58,155.00 L298.25,155.50 L298.90,156.00 L299.53,156.50 L300.15,157.00 L300.76,157.50 L301.35,158.00 L301.92,158.50 L302.48,159.00 L303.02,159.50 L303.55,160.00 L304.07,160.50 L304.58,161.00 L305.07,161.50 L305.55,162.00 L306.02,162.50 L306.47,163.00 L306.92,163.50 L307.36,164.00 L307.78,164.50 L308.20,165.00 L308.60,165.50 L309.00,166.00 L309.39,166.50 L309.76,167.00 L310.14,167.50 L310.50,168.00 L310.86,168.50 L311.21,169.00 L311.55,169.50 L311.89,170.00 L312.22,170.50 L312.55,171.00 L312.88,171.50 L313.19,172.00 L313.51,172.50 L313.82,173.00 L314.13,173.50 L314.43,174.00 L314.73,174.50 L315.03,175.00 L315.32,175.50 L315.61,176.00 L315.90,176.50 L316.18,177.00 L316.46,177.50 L316.73,178.00 L317.01,178.50 L317.28,179.00 L317.55,179.50 L317.81,180.00 L318.07,180.50 L318.33,181.00 L318.58,181.50 L318.84,182.00 L319.09,182.50 L319.33,183.00 L319.58,183.50 L319.82,184.00 L320.06,184.50 L320.30,185.00 L320.53,185.50 L320.76,186.00 L320.99,186.50 L321.22,187.00 L321.45,187.50 L321.67,188.00 L321.89,188.50 L322.11,189.00 L322.33,189.50 L322.55,190.00 L322.76,190.50 L322.97,191.00 L323.18,191.50 L323.39,192.00 L323.60,192.50 L323.80,193.00 L324.01,193.50 L324.21,194.00 L324.41,194.50 L324.61,195.00 L324.81,195.50 L325.00,196.00 L325.20,196.50 L325.39,197.00 L325.59,197.50 L325.78,198.00 L325.97,198.50 L326.16,199.00 L326.35,199.50 L326.54,200.00 L326.73,200.50 L326.92,201.00 L327.10,201.50 L327.29,202.00 L327.47,202.50 L327.66,203.00 L327.84,203.50 L328.03,204.00 L328.21,204.50 L328.39,205.00 L328.58,205.50 L328.76,206.00 L328.94,206.50 L329.13,207.00 L329.31,207.50 L329.49,208.00 L329.68,208.50 L329.86,209.00 L330.04,209.50 L330.23,210.00 L330.41,210.50 L330.59,211.00 L330.78,211.50 L330.96,212.00 L331.15,212.50 L331.34,213.00 L331.52,213.50 L331.71,214.00 L331.90,214.50 L332.09,215.00 L332.28,215.50 L332.47,216.00 L332.66,216.50 L332.85,217.00 L333.05,217.50 L333.24,218.00 L333.44,218.50 L333.64,219.00 L333.83,219.50 L334.03,220.00 L334.24,220.50 L334.44,221.00 L334.64,221.50 L334.85,222.00 L335.06,222.50 L335.27,223.00 L335.48,223.50 L335.69,224.00 L335.90,224.50 L336.12,225.00 L336.34,225.50 L336.56,226.00 L336.78,226.50 L337.01,227.00 L337.23,227.50 L337.46,228.00 L337.69,228.50 L337.92,229.00 L338.15,229.50 L338.37,230.00 L338.60,230.50 L338.83,231.00" fill="none" stroke="#303030" stroke-width="0.7"/>
<g fill="#ff2020"><circle cx="284.71" cy="139.50" r="0.8"/><circle cx="284.65" cy="139.77" r="0.8"/><circle cx="284.61" cy="139.97" r="0.8"/><circle cx="284.59" cy="140.17" r="0.8"/><circle cx="284.56" cy="140.38" r="0.8"/><circle cx="284.54" cy="140.58" r="0.8"/><circle cx="284.52" cy="140.78" r="0.8"/><circle cx="284.51" cy="140.98" r="0.8"/><circle cx="284.51" cy="141.19" r="0.8"/><circle cx="284.51" cy="141.39" r="0.8"/><circle cx="284.52" cy="141.59" r="0.8"/><circle cx="284.54" cy="141.79" r="0.8"/><circle cx="284.55" cy="141.99" r="0.8"/><circle cx="284.58" cy="142.20" r="0.8"/><circle cx="284.61" cy="142.40" r="0.8"/><circle cx="284.65" cy="142.60" r="0.8"/><circle cx="284.69" cy="142.80" r="0.8"/><circle cx="284.74" cy="143.01" r="0.8"/><circle cx="284.80" cy="143.21" r="0.8"/><circle cx="284.86" cy="143.41" r="0.8"/><circle cx="284.93" cy="143.61" r="0.8"/><circle cx="285.00" cy="143.81" r="0.8"/><circle cx="285.08" cy="144.03" r="0.8"/><circle cx="285.18" cy="144.26" r="0.8"/><circle cx="285.29" cy="144.50" r="0.8"/><circle cx="285.43" cy="144.75" r="0.8"/><circle cx="285.57" cy="145.02" r="0.8"/><circle cx="285.75" cy="145.31" r="0.8"/><circle cx="285.95" cy="145.62" r="0.8"/><circle cx="286.17" cy="145.95" r="0.8"/><circle cx="286.44" cy="146.30" r="0.8"/><circle cx="286.74" cy="146.68" r="0.8"/><circle cx="287.09" cy="147.08" r="0.8"/><circle cx="287.49" cy="147.51" r="0.8"/><circle cx="287.96" cy="147.97" r="0.8"/><circle cx="288.50" cy="148.46" r="0.8"/><circle cx="289.12" cy="148.99" r="0.8"/><circle cx="289.84" cy="149.56" r="0.8"/><circle cx="290.65" cy="150.17" r="0.8"/><circle cx="291.57" cy="150.83" r="0.8"/><circle cx="292.58" cy="151.53" r="0.8"/><circle cx="293.70" cy="152.29" r="0.8"/><circle cx="294.90" cy="153.12" r="0.8"/><circle cx="296.19" cy="154.00" r="0.8"/><circle cx="297.53" cy="154.96" r="0.8"/><circle cx="298.90" cy="156.00" r="0.8"/><circle cx="300.31" cy="157.13" r="0.8"/><circle cx="301.75" cy="158.35" r="0.8"/><circle cx="303.22" cy="159.68" r="0.8"/><circle cx="304.70" cy="161.13" r="0.8"/><circle cx="306.20" cy="162.70" r="0.8"/><circle cx="307.71" cy="164.42" r="0.8"/><circle cx="309.23" cy="166.30" r="0.8"/><circle cx="310.91" cy="168.58" r="0.8"/><circle cx="312.45" cy="170.85" r="0.8"/><circle cx="313.99" cy="173.28" r="0.8"/><circle cx="315.56" cy="175.91" r="0.8"/><circle cx="317.11" cy="178.69" r="0.8"/><circle cx="318.82" cy="181.98" r="0.8"/><circle cx="320.54" cy="185.52" r="0.8"/><circle cx="322.31" cy="189.46" r="0.8"/><circle cx="324.05" cy="193.61" r="0.8"/><circle cx="326.09" cy="198.81" r="0.8"/><circle cx="328.41" cy="205.03" r="0.8"/><circle cx="330.91" cy="211.86" r="0.8"/><circle cx="333.83" cy="219.50" r="0.8"/><circle cx="337.69" cy="228.50" r="0.8"/></g>
</g>
<g clip-path="url(#c7)">
<path d="M404.21,139.00 L404.13,139.50 L404.07,140.00 L404.02,140.50 L403.98,141.00 L403.97,141.50 L403.98,142.00 L404.02,142.50 L404.08,143.00 L404.17,143.50 L404.30,144.00 L404.45,144.50 L404.65,145.00 L404.89,145.50 L405.16,146.00 L405.48,146.50 L405.85,147.00 L406.27,147.50 L406.73,148.00 L407.25,148.50 L407.83,149.00 L408.46,149.50 L409.13,150.00 L409.85,150.50 L410.60,151.00 L411.36,151.50 L412.15,152.00 L412.94,152.50 L413.74,153.00 L414.52,153.50 L415.29,154.00 L416.05,154.50 L416.78,155.00 L417.50,155.50 L418.21,156.00 L418.89,156.50 L419.57,157.00 L420.22,157.50 L420.86,158.00 L421.49,158.50 L422.10,159.00 L422.70,159.50 L423.29,160.00 L423.86,160.50 L424.42,161.00 L424.97,161.50 L425.51,162.00 L426.04,162.50 L426.56,163.00 L427.06,163.50 L427.56,164.00 L428.05,164.50 L428.53,165.00 L429.00,165.50 L429.46,166.00 L429.92,166.50 L430.36,167.00 L430.81,167.50 L431.24,168.00 L431.67,168.50 L432.10,169.00 L432.52,169.50 L432.93,170.00 L433.34,170.50 L433.75,171.00 L434.15,171.50 L434.55,172.00 L434.94,172.50 L435.33,173.00 L435.72,173.50 L436.10,174.00 L436.48,174.50 L436.85,175.00 L437.22,175.50 L437.58,176.00 L437.95,176.50 L438.30,177.00 L438.66,177.50 L439.01,178.00 L439.36,178.50 L439.70,179.00 L440.04,179.50 L440.38,180.00 L440.71,180.50 L441.04,181.00 L441.37,181.50 L441.69,182.00 L442.01,182.50 L442.33,183.00 L442.65,183.50 L442.96,184.00 L443.27,184.50 L443.57,185.00 L443.88,185.50 L444.18,186.00 L444.48,186.50 L444.77,187.00 L445.06,187.50 L445.35,188.00 L445.64,188.50 L445.93,189.00 L446.21,189.50 L446.49,190.00 L446.77,190.50 L447.04,191.00 L447.32,191.50 L447.59,192.00 L447.86,192.50 L448.12,193.00 L448.39,193.50 L448.65,194.00 L448.91,194.50 L449.17,195.00 L449.43,195.50 L449.69,196.00 L449.94,196.50 L450.20,197.00 L450.45,197.50 L450.70,198.00 L450.95,198.50 L451.20,199.00 L451.44,199.50 L451.69,200.00 L451.93,200.50 L452.17,201.00 L452.41,201.50 L452.65,202.00 L452.89,202.50 L453.13,203.00 L453.37,203.50 L453.61,204.00 L453.84,204.50 L454.08,205.00 L454.31,205.50 L454.55,206.00 L454.78,206.50 L455.01,207.00 L455.24,207.50 L455.48,208.00 L455.71,208.50 L455.94,209.00 L456.17,209.50 L456.40,210.00 L456.63,210.50 L456.86,211.00 L457.09,211.50 L457.32,212.00 L457.55,212.50 L457.78,213.00 L458.01,213.50 L458.25,214.00 L458.48,214.50 L458.71,215.00 L458.94,215.50 L459.17,216.00 L459.41,216.50 L459.64,217.00 L459.87,217.50 L460.11,218.00 L460.34,218.50 L460.58,219.00 L460.82,219.50 L461.06,220.00 L461.29,220.50 L461.53,221.00 L461.78,221.50 L462.02,222.00 L462.26,222.50 L462.51,223.00 L462.75,223.50 L463.00,224.00 L463.25,224.50 L463.50,225.00 L463.75,225.50 L464.00,226.00 L464.25,226.50 L464.51,227.00 L464.77,227.50 L465.03,228.00 L465.28,228.50 L465.54,229.00 L465.80,229.50 L466.06,230.00 L466.32,230.50 L466.58,231.00" fill="none" stroke="#303030" stroke-width="0.7"/>
<g fill="#ff2020"><circle cx="404.13" cy="139.50" r="0.8"/><circle cx="404.10" cy="139.77" r="0.8"/><circle cx="404.07" cy="139.97" r="0.8"/><circle cx="404.05" cy="140.17" r="0.8"/><circle cx="404.03" cy="140.38" r="0.8"/><circle cx="404.01" cy="140.58" r="0.8"/><circle cx="404.00" cy="140.78" r="0.8"/><circle cx="403.98" cy="140.98" r="0.8"/><circle cx="403.98" cy="141.19" r="0.8"/><circle cx="403.97" cy="141.39" r="0.8"/><circle cx="403.97" cy="141.59" r="0.8"/><circle cx="403.98" cy="141.79" r="0.8"/><circle cx="403.98" cy="141.99" r="0.8"/><circle cx="404.00" cy="142.20" r="0.8"/><circle cx="404.01" cy="142.40" r="0.8"/><circle cx="404.03" cy="142.60" r="0.8"/><circle cx="404.05" cy="142.80" r="0.8"/><circle cx="404.08" cy="143.01" r="0.8"/><circle cx="404.12" cy="143.21" r="0.8"/><circle cx="404.15" cy="143.41" r="0.8"/><circle cx="404.20" cy="143.61" r="0.8"/><circle cx="404.25" cy="143.81" r="0.8"/><circle cx="404.30" cy="144.03" r="0.8"/><circle cx="404.38" cy="144.26" r="0.8"/><circle cx="404.45" cy="144.50" r="0.8"/><circle cx="404.55" cy="144.75" r="0.8"/><circle cx="404.66" cy="145.02" r="0.8"/><circle cx="404.80" cy="145.31" r="0.8"/><circle cx="404.95" cy="145.62" r="0.8"/><circle cx="405.14" cy="145.95" r="0.8"/><circle cx="405.36" cy="146.30" r="0.8"/><circle cx="405.62" cy="146.68" r="0.8"/><circle cx="405.92" cy="147.08" r="0.8"/><circle cx="406.28" cy="147.51" r="0.8"/><circle cx="406.71" cy="147.97" r="0.8"/><circle cx="407.22" cy="148.46" r="0.8"/><circle cx="407.82" cy="148.99" r="0.8"/><circle cx="408.54" cy="149.56" r="0.8"/><circle cx="409.38" cy="150.17" r="0.8"/><circle cx="410.34" cy="150.83" r="0.8"/><circle cx="411.42" cy="151.53" r="0.8"/><circle cx="412.62" cy="152.29" r="0.8"/><circle cx="413.92" cy="153.12" r="0.8"/><circle cx="415.30" cy="154.00" r="0.8"/><circle cx="416.73" cy="154.96" r="0.8"/><circle cx="418.21" cy="156.00" r="0.8"/><circle cx="419.74" cy="157.13" r="0.8"/><circle cx="421.30" cy="158.35" r="0.8"/><circle cx="422.91" cy="159.68" r="0.8"/><circle cx="424.56" cy="161.13" r="0.8"/><circle cx="426.25" cy="162.70" r="0.8"/><circle cx="427.97" cy="164.42" r="0.8"/><circle cx="429.73" cy="166.30" r="0.8"/><circle cx="431.74" cy="168.58" r="0.8"/><circle cx="433.63" cy="170.85" r="0.8"/><circle cx="435.55" cy="173.28" r="0.8"/><circle cx="437.52" cy="175.91" r="0.8"/><circle cx="439.49" cy="178.69" r="0.8"/><circle cx="441.68" cy="181.98" r="0.8"/><circle cx="443.89" cy="185.52" r="0.8"/><circle cx="446.19" cy="189.46" r="0.8"/><circle cx="448.45" cy="193.61" r="0.8"/><circle cx="451.10" cy="198.81" r="0.8"/><circle cx="454.09" cy="205.03" r="0.8"/><circle cx="457.26" cy="211.86" r="0.8"/><circle cx="460.82" cy="219.50" r="0.8"/><circle cx="465.28" cy="228.50" r="0.8"/></g>
</g>
</svg>
</body></html>
